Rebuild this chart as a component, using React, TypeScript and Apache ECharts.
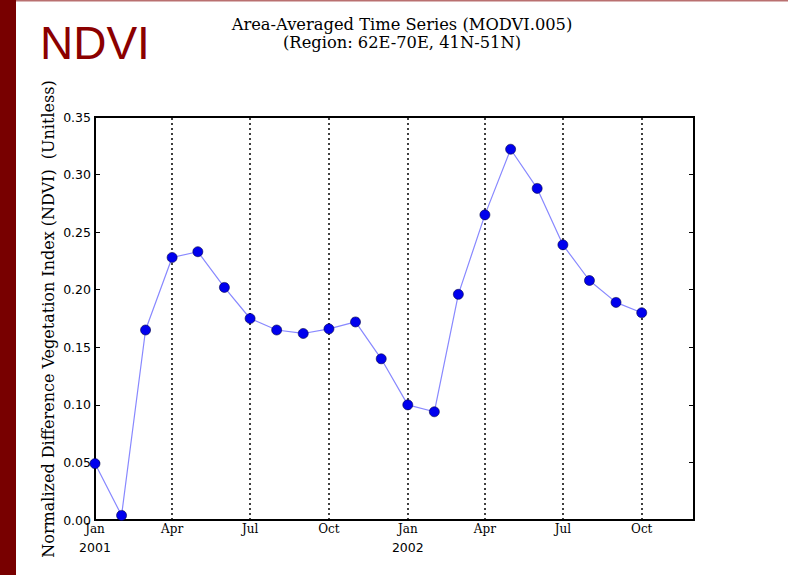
import React, { useEffect, useRef } from "react";
import * as echarts from "echarts";

const dates = [
  "2001-01-01", "2001-02-01", "2001-03-01", "2001-04-01", "2001-05-01", "2001-06-01",
  "2001-07-01", "2001-08-01", "2001-09-01", "2001-10-01", "2001-11-01", "2001-12-01",
  "2002-01-01", "2002-02-01", "2002-03-01", "2002-04-01", "2002-05-01", "2002-06-01",
  "2002-07-01", "2002-08-01", "2002-09-01", "2002-10-01",
];
const ndvi = [
  0.049, 0.004, 0.165, 0.228, 0.233, 0.202,
  0.175, 0.165, 0.162, 0.166, 0.172, 0.140,
  0.100, 0.094, 0.196, 0.265, 0.322, 0.288,
  0.239, 0.208, 0.189, 0.180,
];
const quarterTicks = [
  "2001-01-01", "2001-04-01", "2001-07-01", "2001-10-01",
  "2002-01-01", "2002-04-01", "2002-07-01", "2002-10-01",
];
const monthNames = ["Jan", "Feb", "Mar", "Apr", "May", "Jun", "Jul", "Aug", "Sep", "Oct", "Nov", "Dec"];
const titleLines = ["Area-Averaged Time Series (MODVI.005)", "(Region: 62E-70E, 41N-51N)"];
const yAxisTitle = "Normalized Difference Vegetation Index (NDVI)  (Unitless)";
const slideTitle = "NDVI";

const ts = (s: string) => {
  const [y, m, d] = s.split("-").map(Number);
  return Date.UTC(y, m - 1, d);
};

export default function App() {
  const ref = useRef<HTMLDivElement>(null);
  useEffect(() => {
    if (!ref.current) return;
    const chart = echarts.init(ref.current, null, { renderer: "svg" });
    const tickVals = quarterTicks.map(ts);
    chart.setOption({
      animation: false,
      backgroundColor: "#ffffff",
      title: {
        text: titleLines.join("\n"),
        left: 397,
        top: 10,
        textAlign: "center",
        textStyle: {
          fontFamily: "DejaVu Serif",
          fontSize: 16.3,
          fontWeight: "normal",
          color: "#000",
          lineHeight: 18,
        },
      },
      graphic: [
        { type: "rect", left: 0, top: 0, shape: { width: 16, height: 575 }, style: { fill: "#780000" } },
        { type: "rect", left: 16, top: 0, shape: { width: 772, height: 1.5 }, style: { fill: "#b97070" } },
        {
          type: "text",
          x: 40,
          y: 20,
          style: {
            text: slideTitle,
            fontFamily: "Liberation Sans",
            fontSize: 46,
            fill: "#8b0000",
          },
        },
        {
          type: "text",
          x: 48,
          y: 319,
          rotation: Math.PI / 2,
          style: {
            text: yAxisTitle,
            fontFamily: "DejaVu Serif",
            fontSize: 16,
            fill: "#000",
            align: "center",
            verticalAlign: "middle",
          },
        },
      ],
      grid: {
        left: 95,
        right: 94,
        top: 117,
        bottom: 55,
        show: true,
        borderColor: "#000",
        borderWidth: 2,
        backgroundColor: "transparent",
      },
      xAxis: {
        type: "value",
        min: ts("2001-01-01"),
        max: ts("2002-12-01"),
        axisLine: { show: false },
        axisTick: { show: false },
        splitLine: { show: false },
        axisLabel: {
          customValues: tickVals,
          margin: 2,
          showMinLabel: true,
          showMaxLabel: true,
          hideOverlap: false,
          formatter: (v: number) => {
            const d = new Date(v);
            const m = monthNames[d.getUTCMonth()];
            if (d.getUTCMonth() === 0) return `{m|${m}}\n{y|${d.getUTCFullYear()}}`;
            return `{m|${m}}`;
          },
          rich: {
            m: { fontFamily: "DejaVu Serif", fontSize: 12, color: "#000", lineHeight: 13 },
            y: { fontFamily: "DejaVu Sans", fontSize: 12.5, color: "#000", lineHeight: 24 },
          },
        },
      },
      yAxis: [
        {
          type: "value",
          min: 0,
          max: 0.35,
          interval: 0.05,
          axisLine: { show: false },
          axisTick: { show: true, inside: true, length: 5, lineStyle: { color: "#000" } },
          splitLine: { show: false },
          axisLabel: {
            margin: 4,
            fontFamily: "DejaVu Sans",
            fontSize: 12.5,
            color: "#000",
            formatter: (v: number) => v.toFixed(2),
          },
        },
        {
          type: "value",
          position: "right",
          min: 0,
          max: 0.35,
          interval: 0.05,
          axisLine: { show: false },
          axisTick: { show: true, inside: true, length: 5, lineStyle: { color: "#000" } },
          splitLine: { show: false },
          axisLabel: { show: false },
        },
      ],
      series: [
        {
          type: "line",
          data: dates.map((d, i) => [ts(d), ndvi[i]]),
          symbol: "circle",
          symbolSize: 10,
          lineStyle: { color: "#8888ff", width: 1.2 },
          itemStyle: { color: "#0000ee", borderColor: "#000044", borderWidth: 0.6 },
          clip: false,
          z: 5,
          markLine: {
            silent: true,
            symbol: "none",
            label: { show: false },
            lineStyle: { color: "#000", type: [2, 3], width: 1.5 },
            data: tickVals.slice(1).map((v) => ({ xAxis: v })),
          },
        },
      ],
    });
    return () => chart.dispose();
  }, []);
  return <div ref={ref} style={{ width: 788, height: 575, position: "absolute", left: 0, top: 0 }} />;
}
